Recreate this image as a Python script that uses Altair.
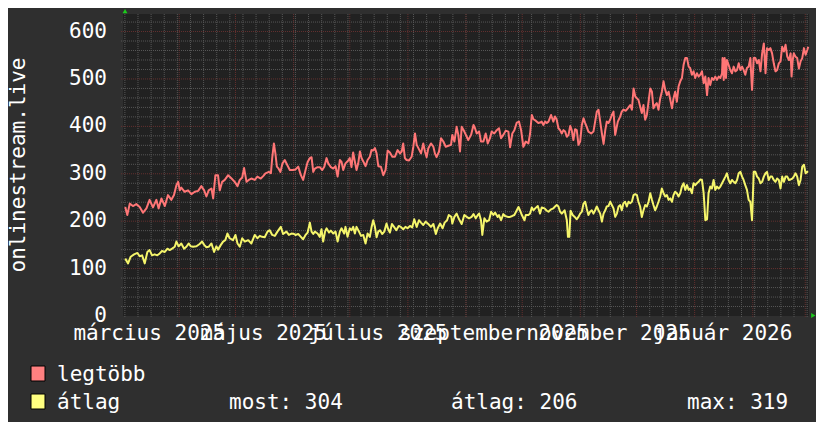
import altair as alt
import pandas as pd

# ---------------- data ----------------
START = "2025-03-02"          # left edge of the time axis
SERIES = ["legtöbb", "átlag"]
LINE_COLORS = ["#ff7676", "#f5f56b"]
LEGEND_COLORS = ["#ff8080", "#ffff80"]

# day offsets from START and values: "legtöbb" (max)
red_day = [1.2, 2.3, 3.6, 5.3, 7.1, 8.9, 10.7, 12.5, 14.2, 16.0, 17.8, 19.0, 20.5, 22.3, 24.0, 25.8, 27.2, 28.5, 29.4, 30.3,
           31.1, 32.9, 34.7, 36.5, 38.3, 40.1, 41.8, 43.3, 44.5, 45.7, 47.2, 48.1, 49.3, 50.7, 51.6, 52.9, 54.3, 56.1, 57.9, 59.6,
           61.1, 62.3, 63.6, 64.6, 65.9, 67.1, 68.5, 70.3, 71.7, 73.5, 74.8, 76.0, 77.8, 78.9, 79.6, 80.5, 81.3, 82.1, 82.8, 84.0,
           85.1, 86.3, 87.7, 89.0, 90.8,
           92.0, 93.5, 94.9, 96.1, 97.4, 98.5, 99.7, 100.6, 101.5, 102.4, 103.8, 105.0, 106.3, 107.4, 108.6, 109.5, 110.9, 112.2,
           113.4, 114.5, 115.7, 116.6, 117.5, 118.7, 120.2, 121.0, 121.9, 122.8, 123.7, 124.6, 125.5, 126.4, 127.3, 128.2, 129.4,
           130.5, 131.7, 132.6, 133.5, 134.4, 135.3, 136.2, 137.6, 138.9, 140.1, 141.2, 142.4, 143.7, 145.1, 146.5, 147.8, 148.7,
           149.5, 150.4, 151.3, 152.6, 154.0, 154.9, 155.8, 156.7, 157.6, 159.0, 160.2, 161.1, 162.0, 162.9, 164.3, 165.6, 166.4,
           167.3, 168.6, 169.7, 170.9, 172.2, 173.6, 175.0, 175.7, 176.8, 178.0, 178.9, 179.8, 180.7, 182.1,
           183.4, 184.2, 185.7, 187.0, 187.8, 188.7, 190.0, 191.0, 192.3, 193.5, 194.6, 195.8, 196.7, 198.1, 199.4, 200.6, 201.7,
           202.9, 204.2, 205.6, 206.5, 207.7, 208.8, 210.1, 211.3, 212.4, 213.6, 214.9, 216.3, 217.2, 218.1, 219.0, 220.2, 221.6,
           222.5, 223.4, 224.3, 225.2, 226.1, 227.0, 228.4, 229.6, 230.5, 231.4, 232.3, 233.2, 234.1, 235.0, 235.9, 236.8, 237.7,
           238.6, 239.4, 240.3, 241.2, 242.1, 243.0, 243.9, 244.8, 245.7, 246.6, 247.4, 248.3, 249.8, 251.0, 251.9, 252.8, 253.7,
           254.6, 255.5, 256.4, 257.3, 258.1, 259.0, 259.9, 260.8, 261.7, 262.6, 264.0, 265.3, 266.1, 267.0, 268.3, 269.3, 270.6,
           271.5, 272.4,
           273.3, 274.2, 275.0, 275.9, 276.8, 277.7, 278.6, 279.5, 280.4, 281.3, 282.2, 283.0, 283.9, 284.8, 285.7, 286.6, 287.5,
           288.4, 289.3, 290.2, 291.1, 292.0, 292.9, 293.7, 294.6, 295.5, 296.4, 297.3, 298.2, 299.1, 300.0, 300.9, 301.8, 302.6,
           303.5, 304.4, 305.3, 306.2, 307.1, 308.0, 308.9, 309.8, 310.7, 311.6, 312.4, 313.3, 314.2, 315.1, 316.0, 316.9, 317.8,
           318.7, 319.6, 319.9, 320.5, 321.0, 321.7, 322.2, 323.1, 324.0, 324.9, 325.8, 326.7, 327.6, 328.5, 329.4, 330.3, 331.1,
           332.0, 332.9, 333.8, 334.7, 335.6, 336.0, 336.5, 337.4, 338.3, 339.2, 340.1, 341.0, 341.9, 342.8, 343.6, 344.5, 345.4,
           346.3, 347.2, 348.1, 349.0, 349.9, 350.8, 351.7, 352.6, 353.5, 354.4, 355.3, 356.2, 356.7, 357.3, 357.9, 358.8, 359.7,
           360.6, 361.5, 362.4, 363.3, 364.2, 365.1, 365.6]
red_val = [230, 213, 237, 232, 236, 230, 218, 227, 245, 229, 245, 227, 248, 232, 255, 245, 255, 276, 283, 265,
           271, 262, 265, 257, 262, 264, 274, 265, 252, 265, 269, 248, 297, 297, 265, 283, 287, 297, 290, 283,
           274, 287, 292, 312, 283, 287, 290, 287, 294, 290, 295, 301, 304, 301, 333, 364, 343, 315, 312, 304,
           322, 329, 318, 308, 308,
           309, 315, 297, 287, 308, 325, 333, 335, 304, 311, 314, 314, 308, 315, 333, 322, 314, 311,
           316, 294, 329, 325, 308, 322, 328, 333, 314, 345, 326, 308, 322, 347, 333, 326, 316,
           329, 336, 350, 349, 354, 343, 316, 315, 297, 308, 349, 345, 336, 336, 350, 343, 347,
           364, 333, 329, 328, 336, 357, 385, 361, 354, 343, 364, 347, 335, 354, 364, 357, 343,
           335, 347, 375, 368, 357, 359, 361, 382, 368, 399, 382, 347, 399, 389,
           378, 371, 382, 403, 396, 385, 389, 368, 368, 385, 364, 375, 389, 385, 392, 396, 375,
           382, 391, 389, 356, 385, 392, 408, 410, 392, 357, 368, 364, 385, 424, 415, 412, 407,
           408, 410, 403, 410, 407, 410, 424, 410, 421, 414, 396, 392, 385, 392, 389, 378, 382,
           401, 392, 371, 394, 392, 361, 368, 403, 417, 407, 399, 389, 385, 389, 410, 431, 435,
           410, 385, 363, 392, 410, 407, 414, 424, 431, 382, 410, 421, 431, 435, 433, 438, 445,
           435, 480,
           463, 459, 456, 442, 428, 445, 414, 424, 452, 480, 473, 438, 445, 449, 435, 459, 473,
           495, 477, 466, 473, 456, 438, 459, 473, 452, 484, 495, 502, 530, 544, 544, 526, 523,
           509, 516, 502, 512, 505, 509, 516, 491, 505, 466, 502, 487, 502, 498, 505, 498, 505,
           502, 512, 544, 498, 544, 502, 540, 530, 519, 512, 526, 516, 519, 533, 519, 526, 519,
           509, 523, 526, 544, 477, 505, 544, 544, 533, 540, 516, 554, 575, 512, 565, 561, 565,
           554, 533, 516, 519, 533, 537, 568, 558, 572, 547, 540, 554, 505, 540, 554, 547, 544,
           522, 537, 544, 565, 551, 561, 568]

# day offsets from START and values: "átlag" (average)
yel_day = [1.2, 2.7, 4.1, 5.9, 7.7, 8.9, 10.2, 11.6, 13.0, 14.2, 15.5, 16.9, 18.3, 19.6, 20.8, 22.3, 23.7, 24.9, 26.2, 27.6,
           28.5, 29.7, 31.1, 32.6, 33.8, 35.1, 36.1, 37.4, 39.2, 40.9, 42.2, 43.3, 44.5, 45.7, 47.2, 48.6, 49.8, 50.7, 52.2, 53.4,
           54.6, 55.7, 56.9, 58.7, 60.0, 61.1, 62.3, 63.6, 65.0, 66.8, 68.5, 70.3, 71.7, 73.0, 74.2, 75.6, 77.1, 78.3, 79.6, 81.0,
           82.4, 84.2, 85.4, 87.2, 88.5, 89.9, 91.3,
           92.0, 93.5, 94.9, 96.1, 97.4, 98.5, 99.7, 100.6, 101.5, 102.4, 103.8, 105.0, 105.9, 106.8, 107.8, 108.6, 109.9, 110.9,
           112.2, 113.4, 114.5, 115.7, 116.6, 118.0, 118.7, 119.8, 121.0, 121.9, 122.8, 123.7, 124.6, 125.9, 127.0, 128.2, 129.4,
           130.5, 131.7, 132.6, 133.5, 134.4, 135.3, 136.2, 137.1, 138.3, 139.4, 140.6, 141.5, 142.4, 143.5, 144.6, 145.8, 147.1,
           148.2, 149.5, 150.7, 151.8, 153.1, 154.3, 155.4, 156.7, 157.9, 159.0, 160.2, 161.5, 162.9, 164.3, 165.6, 166.9, 167.9,
           169.2, 170.5, 171.6, 172.9, 173.8, 175.2, 175.7, 176.8, 178.0, 179.3, 180.7, 182.1,
           183.4, 184.6, 186.0, 187.0, 188.2, 189.3, 190.0, 191.0, 191.7, 192.8, 194.0, 195.3, 196.4, 197.6, 198.5, 199.9, 200.6,
           201.7, 202.9, 203.8, 205.3, 206.5, 207.7, 208.8, 210.1, 211.0, 211.9, 212.8, 214.2, 214.9, 216.3, 217.2, 218.1, 219.0,
           219.9, 221.3, 222.5, 223.4, 224.9, 226.1, 227.0, 228.4, 229.6, 230.5, 231.4, 232.3, 233.2, 234.1, 235.6, 236.8, 237.4,
           238.1, 238.8, 239.9, 241.0, 242.1, 243.0, 243.9, 244.8, 245.7, 246.6, 247.4, 248.3, 249.2, 250.1, 251.0, 251.9, 252.8,
           253.7, 254.6, 255.5, 256.4, 257.3, 258.1, 259.0, 259.9, 260.8, 261.7, 262.6, 263.5, 264.4, 265.3, 266.1, 267.0, 267.9,
           268.8, 269.7, 270.6, 271.5, 272.4,
           273.3, 274.2, 275.0, 275.9, 276.8, 277.7, 278.6, 279.5, 280.4, 281.3, 282.2, 283.0, 283.9, 284.8, 285.7, 286.6, 287.5,
           288.4, 289.3, 290.2, 291.1, 292.0, 292.9, 293.7, 294.6, 295.5, 296.4, 297.3, 298.2, 299.1, 300.0, 300.9, 301.8, 302.6,
           303.5, 304.4, 305.3, 306.2, 307.1, 308.0, 308.9, 309.8, 310.7, 311.6, 312.4, 313.3, 314.2, 315.1, 316.0, 316.9, 317.8,
           318.7, 319.6, 320.5, 321.4, 322.2, 323.1, 324.0, 324.9, 325.8, 326.7, 327.6, 328.5, 329.4, 330.3, 331.1, 332.0, 332.9,
           333.8, 334.7, 335.6, 336.0, 336.5, 337.4, 338.3, 339.2, 340.1, 341.0, 341.9, 342.8, 343.6, 344.5, 345.4, 346.3, 347.2,
           348.1, 349.0, 349.9, 350.8, 351.7, 352.6, 353.5, 354.4, 355.3, 356.2, 357.1, 357.9, 358.8, 359.7, 360.6, 361.5, 362.4,
           363.3, 364.2, 365.1, 365.6]
yel_val = [121, 111, 125, 130, 133, 126, 128, 111, 135, 139, 128, 130, 128, 132, 137, 135, 142, 139, 142, 146,
           157, 147, 153, 142, 146, 153, 147, 146, 147, 152, 157, 150, 145, 146, 153, 135, 147, 140, 150, 157,
           160, 174, 164, 160, 171, 153, 146, 164, 157, 160, 153, 171, 164, 169, 167, 166, 178, 181, 171, 169,
           178, 188, 173, 178, 171, 174, 173,
           171, 173, 167, 162, 171, 176, 197, 178, 173, 178, 174, 167, 183, 157, 178, 185, 176, 180,
           174, 178, 157, 178, 185, 174, 188, 167, 185, 181, 188, 174, 188, 178, 169, 171, 153,
           174, 167, 187, 202, 188, 166, 178, 181, 173, 178, 195, 183, 176, 194, 188, 181, 190,
           188, 183, 188, 185, 190, 187, 204, 188, 202, 197, 192, 199, 194, 188, 194, 173, 185,
           195, 185, 197, 202, 213, 209, 195, 209, 216, 204, 194, 213,
           209, 206, 209, 215, 206, 213, 216, 202, 171, 206, 199, 202, 220, 213, 218, 209, 213,
           202, 215, 211, 209, 209, 211, 213, 223, 230, 222, 213, 202, 213, 213, 216, 229, 223,
           227, 232, 216, 229, 227, 222, 220, 225, 227, 231, 234, 231, 220, 216, 223, 202, 167,
           167, 222, 213, 209, 204, 209, 216, 220, 237, 241, 227, 213, 220, 223, 216, 223, 231,
           223, 216, 199, 216, 223, 231, 232, 241, 234, 227, 209, 216, 231, 234, 223, 238, 241,
           231, 241, 238, 241, 255,
           257, 255, 241, 231, 209, 223, 234, 231, 241, 259, 245, 234, 223, 231, 241, 252, 269,
           259, 252, 255, 245, 248, 241, 255, 262, 259, 252, 259, 273, 280, 266, 276, 266, 269,
           259, 280, 276, 280, 283, 288, 287, 259, 202, 204, 259, 273, 269, 287, 266, 273, 269,
           273, 280, 287, 294, 301, 287, 280, 287, 283, 280, 287, 301, 304, 294, 287, 276, 266,
           245, 241, 202, 245, 304, 304, 294, 290, 280, 283, 294, 301, 304, 287, 294, 294, 287,
           283, 290, 287, 269, 294, 283, 294, 294, 287, 288, 290, 294, 301, 294, 276, 287, 315,
           319, 301, 304, 304]

month_labels = ["március 2025", "május 2025", "július 2025", "szeptember 2025", "november 2025", "január 2026"]
month_label_dates = ["2025-03-16", "2025-05-16", "2025-07-16", "2025-09-16", "2025-11-16", "2026-01-16"]
y_ticks = [0, 100, 200, 300, 400, 500, 600]
y_title = "onlinestream.live"
stat_names = ["most", "átlag", "max"]
stat_values = [304, 206, 319]

# ---------------- layout / style ----------------
W, H = 686, 302
Y_MAX = 637
FONT = "DejaVu Sans Mono"
FS = 21
BG = "#2f2f2f"
PLOT_BG = "#212121"
MINOR = "#565656"
MAJOR = "#64302f"
GREEN = "#1ccc1c"

start = pd.Timestamp(START)
x_scale = alt.Scale(domain=[alt.DateTime(year=2025, month=3, date=2),
                            alt.DateTime(year=2026, month=3, date=3)])
y_scale = alt.Scale(domain=[0, Y_MAX], nice=False, zero=False)

df = pd.concat([
    pd.DataFrame({"t": start + pd.to_timedelta(red_day, unit="D"), "v": red_val, "s": SERIES[0]}),
    pd.DataFrame({"t": start + pd.to_timedelta(yel_day, unit="D"), "v": yel_val, "s": SERIES[1]}),
], ignore_index=True)


def X():
    return alt.X("t:T", scale=x_scale, axis=None)


def Y():
    return alt.Y("v:Q", scale=y_scale, axis=None)


# grid
weeks = pd.DataFrame({"t": pd.date_range("2025-03-03", "2026-03-02", freq="W-MON")})
months = pd.DataFrame({"t": pd.date_range("2025-04-01", "2026-03-01", freq="MS")})
minor_y = pd.DataFrame({"v": [v for v in range(20, Y_MAX, 20) if v % 100]})
major_y = pd.DataFrame({"v": list(range(100, Y_MAX, 100))})

vgrid_minor = alt.Chart(weeks).mark_rule(color=MINOR, strokeDash=[1, 1], strokeWidth=1).encode(
    x=X(), y=alt.value(0), y2=alt.value(H + 2))
vgrid_major = alt.Chart(months).mark_rule(color=MAJOR, strokeDash=[1, 1], strokeWidth=1).encode(
    x=X(), y=alt.value(0), y2=alt.value(H + 2))
hgrid_minor = alt.Chart(minor_y).mark_rule(color=MINOR, strokeDash=[1, 1], strokeWidth=1).encode(
    y=Y(), x=alt.value(-2), x2=alt.value(W))
hgrid_major = alt.Chart(major_y).mark_rule(color=MAJOR, strokeDash=[1, 1], strokeWidth=1).encode(
    y=Y(), x=alt.value(-2), x2=alt.value(W))

lines = alt.Chart(df).mark_line(strokeWidth=2, strokeJoin="round").encode(
    x=X(), y=Y(),
    color=alt.Color("s:N", scale=alt.Scale(domain=SERIES, range=LINE_COLORS), legend=None),
)

# axis arrows (rrdtool style)
arrow_df = pd.DataFrame({"t": [start + pd.Timedelta(hours=26), start + pd.Timedelta(days=368.3)],
                         "v": [643, 1], "shape": ["triangle-up", "triangle-right"]})
arrows = alt.Chart(arrow_df).mark_point(filled=True, color=GREEN, size=24, opacity=1).encode(
    x=X(), y=Y(), shape=alt.Shape("shape:N", scale=None, legend=None))

# y tick labels & title
ylab = alt.Chart(pd.DataFrame({"v": y_ticks, "lab": [str(v) for v in y_ticks]})).mark_text(
    font=FONT, fontSize=FS, color="white", align="right", baseline="middle").encode(
    y=Y(), x=alt.value(-16), text="lab:N")
ytitle = alt.Chart(pd.DataFrame({"lab": [y_title]})).mark_text(
    font=FONT, fontSize=FS, color="white", align="center", baseline="middle", angle=270).encode(
    x=alt.value(-104), y=alt.value(H / 2), text="lab:N")

# x month labels
xlab = alt.Chart(pd.DataFrame({"t": pd.to_datetime(month_label_dates), "lab": month_labels})).mark_text(
    font=FONT, fontSize=FS, color="white", align="center", baseline="alphabetic").encode(
    x=X(), y=alt.value(H + 24), text="lab:N")

# legend
legend_layers = []
row_y = [367, 395]
for i, (name, col) in enumerate(zip(SERIES, LEGEND_COLORS)):
    legend_layers.append(alt.Chart(pd.DataFrame({"n": [name]})).mark_rect(
        color=col, stroke="black", strokeWidth=1).encode(
        x=alt.value(-92), x2=alt.value(-78), y=alt.value(row_y[i] - 15), y2=alt.value(row_y[i])))
    legend_layers.append(alt.Chart(pd.DataFrame({"n": [name]})).mark_text(
        font=FONT, fontSize=FS, color="white", align="left", baseline="alphabetic").encode(
        x=alt.value(-66), y=alt.value(row_y[i]), text="n:N"))
stat_x = [106, 328, 564]
for sx, nm, val in zip(stat_x, stat_names, stat_values):
    legend_layers.append(alt.Chart(pd.DataFrame({"n": [f"{nm}: {val}"]})).mark_text(
        font=FONT, fontSize=FS, color="white", align="left", baseline="alphabetic").encode(
        x=alt.value(sx), y=alt.value(row_y[1]), text="n:N"))

chart = alt.layer(
    vgrid_minor, hgrid_minor, vgrid_major, hgrid_major, lines,
    arrows, ylab, ytitle, xlab, *legend_layers
).properties(
    width=W, height=H,
    autosize=alt.AutoSizeParams(type="none"),
    padding={"left": 115, "top": 6, "right": 7, "bottom": 106},
    background=BG,
).configure_view(fill=PLOT_BG, strokeWidth=0)

chart.save("out.html", embed_options={"renderer": "svg", "actions": False})
